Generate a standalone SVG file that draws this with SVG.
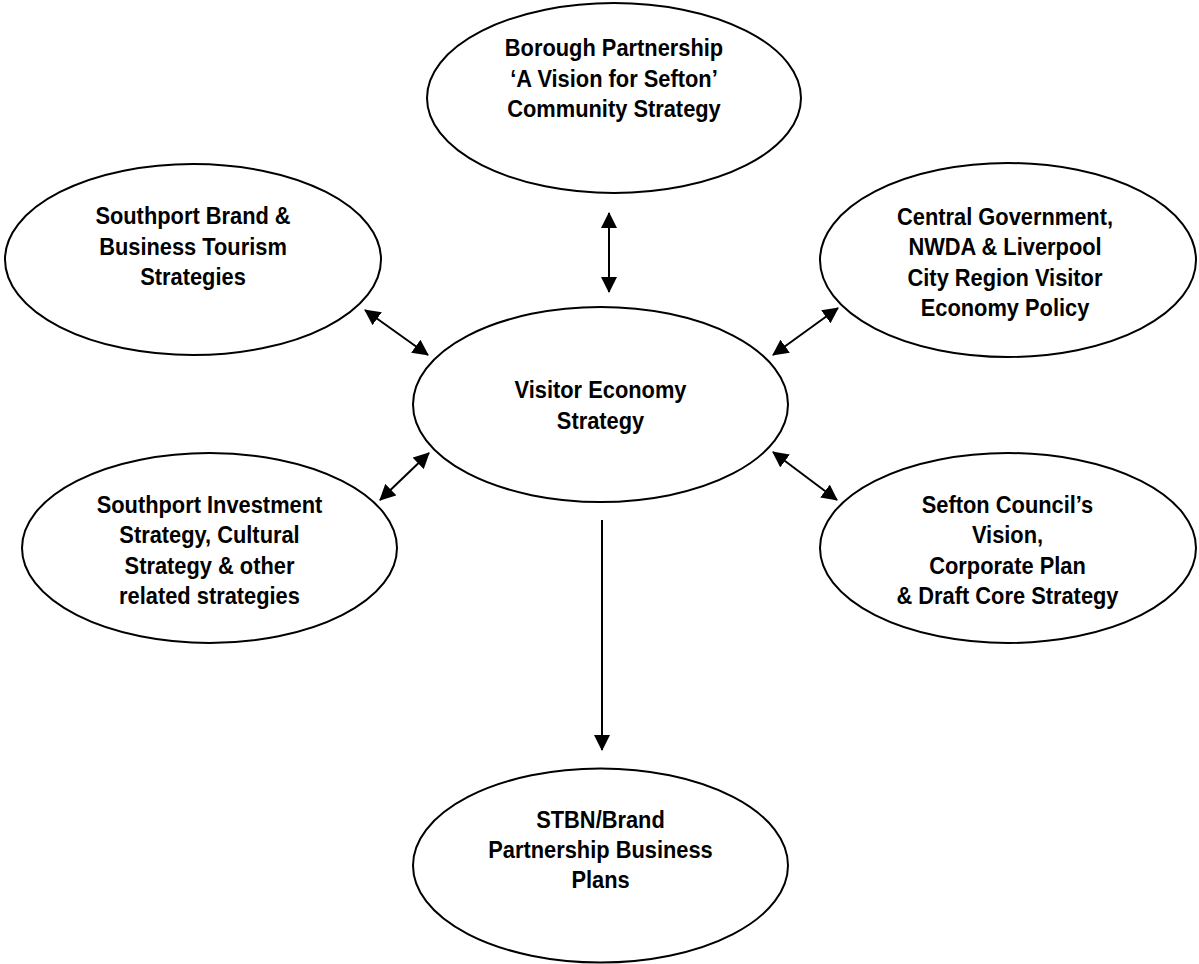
<svg xmlns="http://www.w3.org/2000/svg" width="1199" height="964" viewBox="0 0 1199 964">
<style>
.node ellipse{fill:#fff;stroke:#000;stroke-width:2}
.node text{font-family:"Liberation Sans",Arial,sans-serif;font-weight:bold;font-size:24px;fill:#000;text-anchor:middle}
.conn line{stroke:#000;stroke-width:2}
</style>
<defs>
<marker id="ah" viewBox="0 0 16 16" refX="15" refY="8" markerWidth="16" markerHeight="16" markerUnits="userSpaceOnUse" orient="auto-start-reverse">
<path d="M0,0 L16,8 L0,16 z" fill="#000"/>
</marker>
</defs>
<rect width="1199" height="964" fill="#fff"/>
<g id="connectors" class="conn">
<line x1="609" y1="213" x2="609" y2="292" marker-start="url(#ah)" marker-end="url(#ah)"/>
<line x1="365" y1="310" x2="428" y2="355" marker-start="url(#ah)" marker-end="url(#ah)"/>
<line x1="838" y1="308" x2="773" y2="355" marker-start="url(#ah)" marker-end="url(#ah)"/>
<line x1="380" y1="500" x2="429" y2="453" marker-start="url(#ah)" marker-end="url(#ah)"/>
<line x1="773" y1="452" x2="837" y2="500" marker-start="url(#ah)" marker-end="url(#ah)"/>
<line x1="602" y1="520" x2="602" y2="750" marker-end="url(#ah)"/>
</g>
<g id="borough" class="node">
<ellipse cx="614" cy="98" rx="187" ry="95"/>
<text transform="translate(614,0) scale(0.91,1)"><tspan x="0" y="56">Borough Partnership</tspan><tspan x="0" y="87">‘A Vision for Sefton’</tspan><tspan x="0" y="117.5">Community Strategy</tspan></text>
</g>
<g id="southport-brand" class="node">
<ellipse cx="193" cy="259.5" rx="188" ry="95.5"/>
<text transform="translate(193,0) scale(0.91,1)"><tspan x="0" y="224">Southport Brand &amp;</tspan><tspan x="0" y="255">Business Tourism</tspan><tspan x="0" y="285.5">Strategies</tspan></text>
</g>
<g id="central-gov" class="node">
<ellipse cx="1008" cy="260" rx="188" ry="97"/>
<text transform="translate(1005,0) scale(0.91,1)"><tspan x="0" y="225">Central Government,</tspan><tspan x="0" y="255.5">NWDA &amp; Liverpool</tspan><tspan x="0" y="286">City Region Visitor</tspan><tspan x="0" y="316">Economy Policy</tspan></text>
</g>
<g id="visitor-economy" class="node">
<ellipse cx="600.5" cy="404.5" rx="187.5" ry="97.5"/>
<text transform="translate(600.5,0) scale(0.91,1)"><tspan x="0" y="398">Visitor Economy</tspan><tspan x="0" y="429">Strategy</tspan></text>
</g>
<g id="southport-investment" class="node">
<ellipse cx="209.5" cy="548" rx="187.5" ry="95"/>
<text transform="translate(209.5,0) scale(0.91,1)"><tspan x="0" y="513">Southport Investment</tspan><tspan x="0" y="543.5">Strategy, Cultural</tspan><tspan x="0" y="574">Strategy &amp; other</tspan><tspan x="0" y="604.5">related strategies</tspan></text>
</g>
<g id="sefton-council" class="node">
<ellipse cx="1008" cy="548" rx="188" ry="95"/>
<text transform="translate(1007.5,0) scale(0.91,1)"><tspan x="0" y="513">Sefton Council’s</tspan><tspan x="0" y="543.5">Vision,</tspan><tspan x="0" y="574">Corporate Plan</tspan><tspan x="0" y="604.5">&amp; Draft Core Strategy</tspan></text>
</g>
<g id="stbn" class="node">
<ellipse cx="600.5" cy="865.5" rx="187.5" ry="97"/>
<text transform="translate(600.5,0) scale(0.91,1)"><tspan x="0" y="828">STBN/Brand</tspan><tspan x="0" y="858">Partnership Business</tspan><tspan x="0" y="888">Plans</tspan></text>
</g>
</svg>
